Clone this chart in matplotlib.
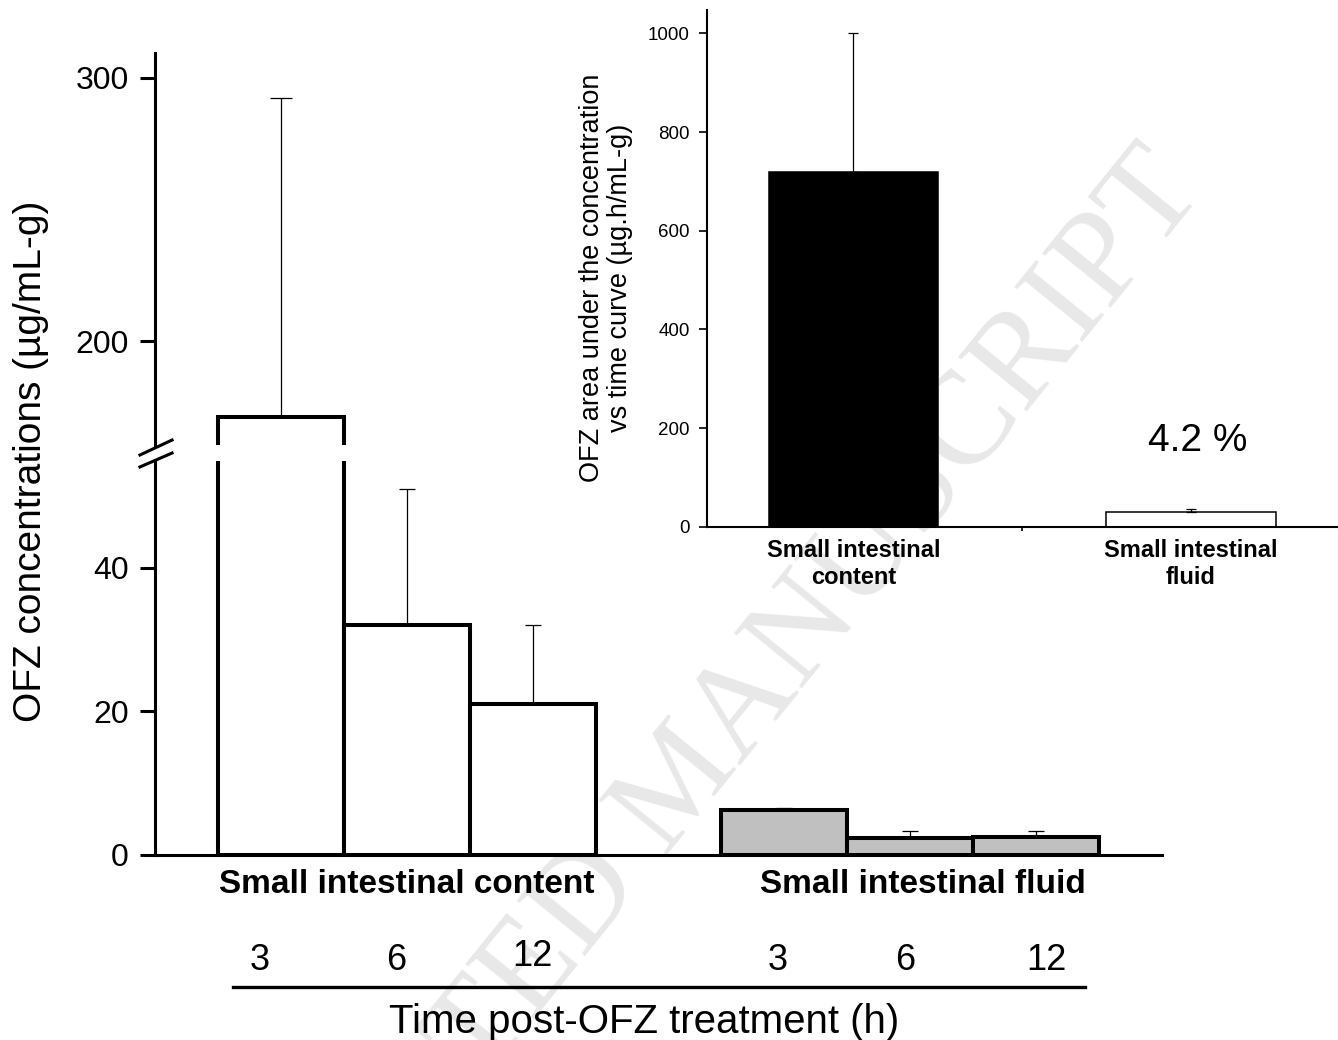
import numpy as np
import matplotlib.pyplot as plt
from matplotlib.lines import Line2D

plt.rcParams['font.family'] = ['Liberation Sans', 'DejaVu Sans']

# OFZ concentrations (ug/mL-g) by time post treatment
times = ['3', '6', '12']
groups = ['Small intestinal content', 'Small intestinal fluid']
content_mean = [171, 32, 21]
content_sd = [121.5, 19, 11]
fluid_mean = [6.3, 2.4, 2.5]
fluid_sd = [0.3, 0.9, 0.8]

# inset: area under the curve
auc_groups = ['Small intestinal\ncontent', 'Small intestinal\nfluid']
auc_mean = [718, 29.5]
auc_sd = [282, 7.5]
auc_ratio = '4.2 %'

x_content = np.arange(3)
x_fluid = np.arange(3) + 4

fig = plt.figure(figsize=(13.38, 10.4), dpi=100)

# watermark behind everything (runs off the bottom edge, as in the source)
fig.text(0.5105, 0.246, 'ACCEPTED MANUSCRIPT', family=['Liberation Serif'],
         fontsize=96, rotation=51, color='#e8e8e8', ha='center', va='center',
         zorder=-1)

ax_lo = fig.add_axes([0.1158, 0.1779, 0.7527, 0.3788])
ax_hi = fig.add_axes([0.1158, 0.5721, 0.7527, 0.3772])

for ax in (ax_lo, ax_hi):
    ax.set_facecolor('none')
    ax.bar(x_content, content_mean, width=1, color='white', edgecolor='black',
           linewidth=2.9, zorder=2)
    ax.bar(x_fluid, fluid_mean, width=1, color='#c0c0c0', edgecolor='black',
           linewidth=2.9, zorder=2)
    for xs, m, s in ((x_content, content_mean, content_sd), (x_fluid, fluid_mean, fluid_sd)):
        for i in range(3):
            cap = 8 if (ax is ax_hi and xs is x_content and i == 0) else 5.5
            ax.errorbar(xs[i], m[i], yerr=[[0], [s[i]]], fmt='none', ecolor='black',
                        elinewidth=0.9, capsize=cap, capthick=0.9, zorder=3)
    ax.set_xlim(-1, 7)
    ax.spines['top'].set_visible(False)
    ax.spines['right'].set_visible(False)
    ax.spines['left'].set_linewidth(2.2)
    ax.spines['bottom'].set_linewidth(2.2)
    ax.set_xticks([])
    ax.tick_params(axis='y', length=10.8, width=2.2, labelsize=23, pad=8)

ax_lo.set_ylim(0, 54.9)
ax_lo.set_yticks([0, 20, 40])
ax_hi.set_ylim(160.5, 309.6)
ax_hi.set_yticks([200, 300])
ax_hi.spines['bottom'].set_visible(False)

# axis break marks
bx0, bx1 = 0.1046, 0.1286
for y0, y1 in ((0.5625, 0.5769), (0.5510, 0.5644)):
    fig.add_artist(Line2D([bx0, bx1], [y0, y1], color='black', lw=2.2))

# group labels
for xc, name in ((1, groups[0]), (5.1, groups[1])):
    ax_lo.annotate(name, xy=(xc, 0), xycoords=('data', 'axes fraction'),
                   xytext=(0, -21), textcoords='offset points', ha='center',
                   va='center', fontsize=24, fontweight='bold')

# time labels under the groups
shift = [-0.17, -0.08, 0.0]
shift_f = [-0.05, -0.04, 0.08]
lift = [0, 0, 3]
for xs, sh, lf in ((x_content, shift, lift), (x_fluid, shift_f, [0, 0, 0])):
    for i, t in enumerate(times):
        ax_lo.annotate(t, xy=(xs[i] + sh[i], 0), xycoords=('data', 'axes fraction'),
                       xytext=(0, -76 + lf[i]), textcoords='offset points', ha='center',
                       va='center', fontsize=26)
fig.add_artist(Line2D([0.1741, 0.8109], [0.051, 0.051], color='black', lw=2.4))
fig.text(0.4813, 0.017, 'Time post-OFZ treatment (h)', ha='center', va='center',
         fontsize=29)

fig.text(0.0232, 0.556, 'OFZ concentrations (µg/mL-g)', rotation=90,
         ha='center', va='center', fontsize=28)

# inset AUC chart
ax_in = fig.add_axes([0.5284, 0.4933, 0.4716, 0.4975])
ax_in.set_facecolor('none')
ax_in.bar([0, 1], auc_mean, width=0.503, color=['black', 'white'],
          edgecolor='black', linewidth=1.1, zorder=2)
ax_in.errorbar([0, 1], auc_mean, yerr=[[0, 0], auc_sd], fmt='none', ecolor='black',
               elinewidth=0.9, capsize=3.5, capthick=0.9, zorder=3)
ax_in.set_xlim(-0.434, 1.436)
ax_in.set_ylim(0, 1048)
ax_in.spines['top'].set_visible(False)
ax_in.spines['right'].set_visible(False)
ax_in.spines['left'].set_linewidth(1.5)
ax_in.spines['bottom'].set_linewidth(1.5)
ax_in.set_yticks(np.arange(0, 1001, 200))
ax_in.tick_params(axis='y', length=5.8, width=1.2, labelsize=13.5, pad=6.5)
ax_in.set_xticks([0, 1])
ax_in.set_xticklabels(auc_groups, fontsize=17, fontweight='bold', linespacing=1.2)
ax_in.tick_params(axis='x', length=0, pad=9)
ax_in.set_xticks([0.5], minor=True)
ax_in.tick_params(axis='x', which='minor', length=3, width=1.2)
ax_in.text(1.02, 174, auc_ratio, ha='center', va='center', fontsize=28)

fig.text(0.453, 0.733, 'OFZ area under the concentration\nvs time curve (µg.h/mL-g)',
         rotation=90, ha='center', va='center', fontsize=19.5, linespacing=1.12)

fig.savefig('out.png', dpi=100)
